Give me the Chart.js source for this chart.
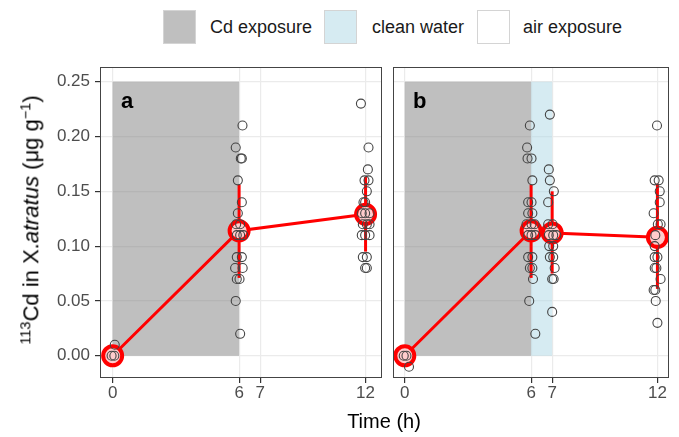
<!DOCTYPE html>
<html>
<head>
<meta charset="utf-8">
<script src="https://cdn.jsdelivr.net/npm/chart.js@4/dist/chart.umd.min.js"></script>
<style>
  body { margin: 0; background: #fff; font-family: "Liberation Sans", Arial, sans-serif; }
  #wrap { position: relative; width: 679px; height: 437px; overflow: hidden; }
  canvas { position: absolute; top: 60px; }
  #cA { left: 0; }
  #cB { left: 390px; }
  .key { position: absolute; top: 10px; width: 33px; height: 34px; border: 1px solid #d4d4d4; box-sizing: border-box; }
  .ktxt { position: absolute; top: 16px; font-size: 18px; color: #1a1a1a; line-height: 22px; white-space: nowrap; }
  .plab { position: absolute; top: 88px; font-size: 22px; font-weight: bold; color: #000; }
  #ytitle { position: absolute; left: 31px; top: 220px; transform: translate(-50%, -50%) rotate(-90deg); font-size: 22px; white-space: nowrap; color: #000; }
  #ytitle sup { font-size: 0.66em; }
  #xtitle { position: absolute; left: 384px; top: 421px; transform: translate(-50%, -50%); font-size: 20px; white-space: nowrap; color: #000; }
</style>
</head>
<body>
<div id="wrap">
  <div class="key" style="left:163px;background:rgb(191,191,191)"></div>
  <div class="ktxt" style="left:210px">Cd exposure</div>
  <div class="key" style="left:324px;background:rgb(214,235,242)"></div>
  <div class="ktxt" style="left:372px">clean water</div>
  <div class="key" style="left:477px;background:#fff"></div>
  <div class="ktxt" style="left:523px">air exposure</div>

  <canvas id="cA" width="390" height="350"></canvas>
  <canvas id="cB" width="289" height="350"></canvas>

  <div class="plab" style="left:121px">a</div>
  <div class="plab" style="left:413px">b</div>
  <div id="ytitle"><sup>113</sup>Cd in X.<i>atratus</i> (μg g<sup>−1</sup>)</div>
  <div id="xtitle">Time (h)</div>
</div>

<script>
// axis ticks
var xTicks = [0, 6, 7, 12]
var yTicks = [0, 0.05, 0.10, 0.15, 0.20, 0.25]

// exposure phases (hours), shaded up to shadeTop
var shadeTop = 0.25
var phaseNameA = ['Cd exposure']
var phaseStartA = [0]
var phaseEndA = [6]
var phaseNameB = ['Cd exposure', 'clean water']
var phaseStartB = [0, 6]
var phaseEndB = [6, 7]

// panel a: individual samples (jittered time, value)
var aX = [-0.05, 0.08, 0.1,
  6.16, 5.84, 6.13, 6.08, 5.94, 6.13, 5.94, 5.86, 6.05, 5.89, 6.05, 6.2, 5.89, 6.13, 5.81, 6.17, 5.89, 6.02, 5.84, 6.05,
  11.78, 12.14, 12.11, 11.95, 12.14, 12.06, 11.9, 11.98, 11.82, 11.98, 12.19, 11.87, 12.06, 12.19, 11.82, 11.98, 12.19, 11.87, 12.06, 11.98, 12.06]
var aY = [0.0, 0.0, 0.01,
  0.21, 0.19, 0.18, 0.18, 0.16, 0.14, 0.13, 0.12, 0.12, 0.11, 0.11, 0.11, 0.09, 0.09, 0.08, 0.08, 0.07, 0.07, 0.05, 0.02,
  0.23, 0.19, 0.17, 0.16, 0.16, 0.15, 0.14, 0.14, 0.13, 0.13, 0.13, 0.12, 0.12, 0.12, 0.11, 0.11, 0.11, 0.09, 0.09, 0.08, 0.08]

// panel a: means and error bar ends
var aTime = [0, 6, 12]
var aMean = [0, 0.114, 0.129]
var aLow = [0, 0.071, 0.095]
var aHigh = [0, 0.156, 0.163]

// panel b: individual samples
var bX = [-0.05, 0.08, 0.2,
  5.94, 5.81, 5.83, 6.02, 6.06, 5.86, 6.02, 5.86, 6.06, 5.78, 6.02, 6.17, 5.86, 6.02, 6.2, 5.86, 6.06, 5.94, 6.06, 6.09, 5.91, 6.2,
  6.89, 6.84, 6.89, 7.08, 6.81, 6.81, 7.02, 6.84, 7.05, 7.2, 6.86, 7.05, 6.89, 7.05, 7.12, 7.0, 7.07, 7.0,
  11.98, 11.87, 12.06, 12.11, 12.11, 11.82, 12.02, 12.15, 11.9, 11.87, 11.87, 12.0, 11.87, 11.95, 12.15, 11.82, 11.9, 11.92, 12.0]
var bY = [0.0, 0.0, -0.01,
  0.21, 0.19, 0.18, 0.18, 0.16, 0.14, 0.14, 0.13, 0.13, 0.12, 0.12, 0.12, 0.11, 0.11, 0.11, 0.09, 0.09, 0.08, 0.08, 0.07, 0.05, 0.02,
  0.22, 0.17, 0.16, 0.15, 0.14, 0.12, 0.12, 0.11, 0.11, 0.11, 0.10, 0.10, 0.09, 0.09, 0.08, 0.07, 0.07, 0.04,
  0.21, 0.16, 0.16, 0.15, 0.14, 0.13, 0.12, 0.12, 0.11, 0.10, 0.09, 0.09, 0.08, 0.08, 0.07, 0.06, 0.06, 0.05, 0.03]

var bTime = [0, 6, 7, 12]
var bMean = [0, 0.114, 0.112, 0.108]
var bLow = [0, 0.071, 0.075, 0.061]
var bHigh = [0, 0.156, 0.150, 0.157]

// styles
var phaseColor = { 'Cd exposure': 'rgba(128,128,128,0.5)', 'clean water': 'rgba(173,216,230,0.5)' }
var FONT = '"Liberation Sans", Arial, sans-serif'

function shadePlugin(names, starts, ends) {
  return {
    id: 'shade',
    beforeDatasetsDraw: function(chart) {
      var ctx = chart.ctx, xs = chart.scales.x, ys = chart.scales.y
      ctx.save()
      for (var i = 0; i < names.length; i++) {
        var x1 = xs.getPixelForValue(starts[i]), x2 = xs.getPixelForValue(ends[i])
        var y1 = ys.getPixelForValue(shadeTop), y2 = ys.getPixelForValue(0)
        ctx.fillStyle = phaseColor[names[i]]
        ctx.fillRect(x1, y1, x2 - x1, y2 - y1)
      }
      ctx.restore()
    }
  }
}

var borderPlugin = {
  id: 'panelBorder',
  afterDraw: function(chart) {
    var a = chart.chartArea, ctx = chart.ctx
    ctx.save()
    ctx.strokeStyle = '#444'
    ctx.lineWidth = 1
    ctx.strokeRect(Math.round(a.left) + 0.5, Math.round(a.top) + 0.5, Math.round(a.right - a.left) - 1, Math.round(a.bottom - a.top) - 1)
    ctx.restore()
  }
}

function buildDatasets(px, py, t, m, lo, hi) {
  var pts = px.map(function(x, i) { return { x: x, y: py[i] } })
  var ds = [{
    data: pts,
    pointRadius: 4.5,
    pointBorderWidth: 1.1,
    borderColor: '#444',
    backgroundColor: 'rgba(0,0,0,0)',
    clip: false
  }, {
    data: t.map(function(x, i) { return { x: x, y: m[i] } }),
    showLine: true,
    borderColor: '#ff0000',
    borderWidth: 3,
    pointRadius: 9.5,
    pointBorderWidth: 4,
    pointBorderColor: '#ff0000',
    pointBackgroundColor: '#ffcccc',
    clip: false
  }]
  for (var i = 0; i < t.length; i++) {
    if (hi[i] === lo[i]) continue
    ds.push({
      data: [{ x: t[i], y: lo[i] }, { x: t[i], y: hi[i] }],
      showLine: true,
      borderColor: '#ff0000',
      borderWidth: 3,
      pointRadius: 0
    })
  }
  return ds
}

function makeChart(id, xmin, xmax, yAxisWidth, showY, padRight, ds, plug) {
  return new Chart(id, {
    type: 'scatter',
    data: { datasets: ds },
    options: {
      responsive: false,
      animation: false,
      devicePixelRatio: 1,
      layout: { autoPadding: false, padding: { top: 7, right: padRight, left: 0, bottom: 0 } },
      plugins: { legend: { display: false }, tooltip: { enabled: false } },
      scales: {
        x: {
          type: 'linear', min: xmin, max: xmax,
          afterBuildTicks: function(s) { s.ticks = xTicks.map(function(v) { return { value: v } }) },
          afterFit: function(s) { s.height = 32; s.paddingLeft = 0; s.paddingRight = 0 },
          ticks: { color: '#4d4d4d', font: { size: 17, family: FONT }, padding: 0, maxRotation: 0, autoSkip: false },
          grid: { color: '#ebebeb', lineWidth: 1.2, tickColor: '#333', tickLength: 5 },
          border: { display: false }
        },
        y: {
          type: 'linear', min: -0.0203, max: 0.2634,
          afterBuildTicks: function(s) { s.ticks = yTicks.map(function(v) { return { value: v } }) },
          afterFit: function(s) { s.width = yAxisWidth; s.paddingTop = 0; s.paddingBottom = 0 },
          ticks: {
            display: showY, color: '#4d4d4d', font: { size: 17, family: FONT }, padding: 5,
            callback: function(v) { return v.toFixed(2) }
          },
          grid: { color: '#ebebeb', lineWidth: 1.2, tickColor: '#333', tickLength: 5, drawTicks: showY },
          border: { display: false }
        }
      }
    },
    plugins: [plug, borderPlugin]
  })
}

makeChart('cA', -0.6, 12.78, 100, true, 8,
  buildDatasets(aX, aY, aTime, aMean, aLow, aHigh),
  shadePlugin(phaseNameA, phaseStartA, phaseEndA))

makeChart('cB', -0.56, 12.55, 3, false, 10,
  buildDatasets(bX, bY, bTime, bMean, bLow, bHigh),
  shadePlugin(phaseNameB, phaseStartB, phaseEndB))
</script>
</body>
</html>
